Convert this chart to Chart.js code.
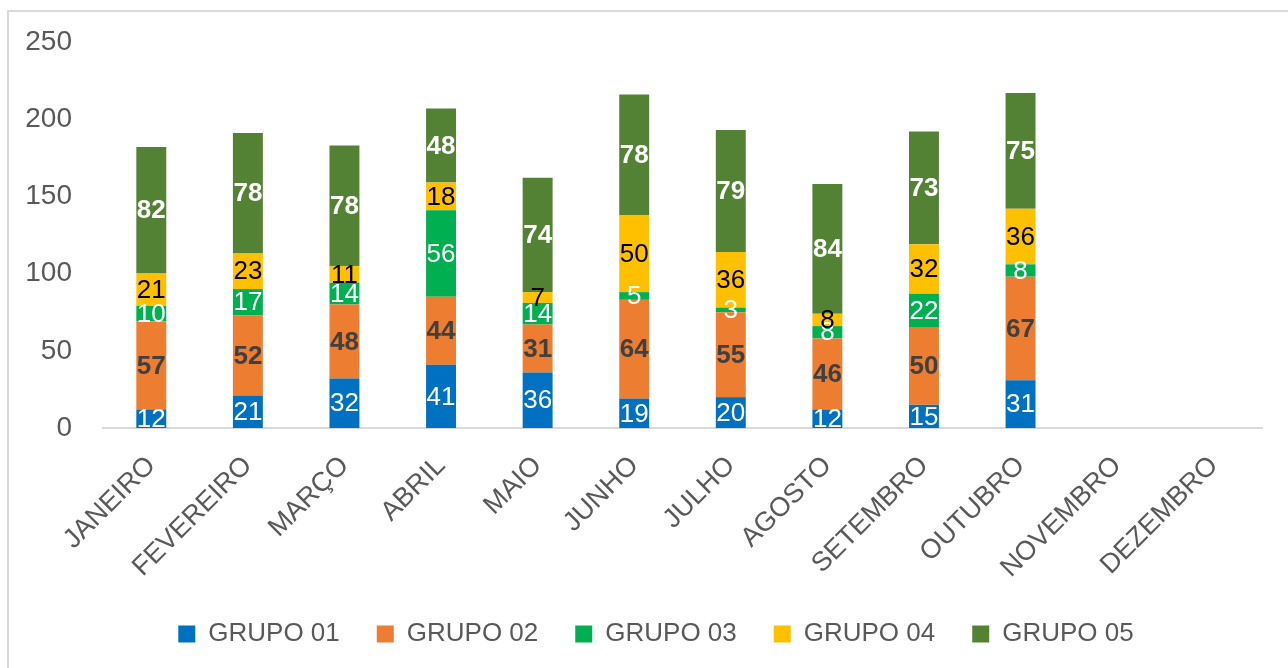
<!DOCTYPE html>
<html>
<head>
<meta charset="utf-8">
<script src="https://cdn.jsdelivr.net/npm/chart.js@4"></script>
<style>
  body { margin: 0; background: #fff; }
  #wrap { width: 1288px; height: 668px; }
</style>
</head>
<body>
<div id="wrap"><canvas id="chart"></canvas></div>
<script>
"use strict";

const months = ["JANEIRO", "FEVEREIRO", "MARÇO", "ABRIL", "MAIO", "JUNHO",
  "JULHO", "AGOSTO", "SETEMBRO", "OUTUBRO", "NOVEMBRO", "DEZEMBRO"];

const grupo01 = [12, 21, 32, 41, 36, 19, 20, 12, 15, 31, null, null];
const grupo02 = [57, 52, 48, 44, 31, 64, 55, 46, 50, 67, null, null];
const grupo03 = [10, 17, 14, 56, 14, 5, 3, 8, 22, 8, null, null];
const grupo04 = [21, 23, 11, 18, 7, 50, 36, 8, 32, 36, null, null];
const grupo05 = [82, 78, 78, 48, 74, 78, 79, 84, 73, 75, null, null];

const yTicks = [0, 50, 100, 150, 200, 250];

const textFont = "'Liberation Sans', sans-serif";

// labels drawn in the middle of every segment
const segmentLabels = {
  id: "segmentLabels",
  afterDatasetsDraw(chart) {
    const ctx = chart.ctx;
    const area = chart.chartArea;
    ctx.save();
    ctx.beginPath();
    ctx.rect(area.left, area.top, area.right - area.left, area.bottom - area.top);
    ctx.clip();
    ctx.textAlign = "center";
    ctx.textBaseline = "middle";
    chart.data.datasets.forEach((ds, i) => {
      const meta = chart.getDatasetMeta(i);
      ctx.fillStyle = ds.labelColor;
      ctx.font = (ds.labelBold ? "bold " : "") + "26px " + textFont;
      meta.data.forEach((bar, j) => {
        const v = ds.data[j];
        if (v === null) return;
        ctx.fillText(String(v), bar.x, (bar.y + bar.base) / 2 + 1);
      });
    });
    ctx.restore();
  },
};

// white background, outer frame, legend nudged to the right
const frame = {
  id: "frame",
  afterLayout(chart) {
    if (chart.legend) {
      chart.legend.left += 25;
      chart.legend.right += 25;
    }
  },
  beforeDraw(chart) {
    const ctx = chart.ctx;
    ctx.save();
    ctx.fillStyle = "#fff";
    ctx.fillRect(0, 0, chart.width, chart.height);
    ctx.strokeStyle = "#d9d9d9";
    ctx.lineWidth = 2;
    ctx.strokeRect(8, 11, 1300, 700);
    ctx.restore();
  },
};

const makeSet = (label, data, color, labelColor, labelBold) => ({
  label: label,
  data: data,
  backgroundColor: color,
  borderWidth: 0,
  labelColor: labelColor,
  labelBold: labelBold,
  barPercentage: 0.62,
  categoryPercentage: 0.5,
});

const data = {
  labels: months,
  datasets: [
    makeSet("GRUPO 01", grupo01, "#0070C0", "#ffffff", false),
    makeSet("GRUPO 02", grupo02, "#ED7D31", "#404040", true),
    makeSet("GRUPO 03", grupo03, "#00B050", "#ffffff", false),
    makeSet("GRUPO 04", grupo04, "#FFC000", "#000000", false),
    makeSet("GRUPO 05", grupo05, "#548235", "#ffffff", true),
  ],
};

const config = {
  type: "bar",
  data: data,
  plugins: [frame, segmentLabels],
  options: {
    responsive: false,
    animation: false,
    layout: { padding: { top: 42, right: 26, bottom: 11, left: 0 } },
    plugins: {
      tooltip: { enabled: false },
      legend: {
        position: "bottom",
        labels: {
          boxWidth: 17,
          boxHeight: 17,
          padding: 37,
          color: "#595959",
          font: { family: textFont, size: 26 },
        },
      },
    },
    scales: {
      x: {
        stacked: true,
        grid: { display: false, drawTicks: false },
        border: { display: true, color: "#d9d9d9", width: 2 },
        ticks: {
          minRotation: 45,
          maxRotation: 45,
          padding: 22,
          color: "#595959",
          font: { family: textFont, size: 27 },
        },
        afterFit(scale) { scale.height = 156; },
      },
      y: {
        stacked: true,
        min: 0,
        max: 250,
        afterBuildTicks(scale) { scale.ticks = yTicks.map((v) => ({ value: v })); },
        grid: { display: false, drawTicks: false },
        border: { display: false },
        ticks: {
          padding: 31,
          color: "#595959",
          font: { family: textFont, size: 28 },
        },
        afterFit(scale) {
          scale.width = 103;
          scale.paddingTop = 0;
          scale.paddingBottom = 0;
        },
      },
    },
  },
};

const canvas = document.getElementById("chart");
canvas.width = 1288;
canvas.height = 668;
const myChart = new Chart(canvas, config);
</script>
</body>
</html>
